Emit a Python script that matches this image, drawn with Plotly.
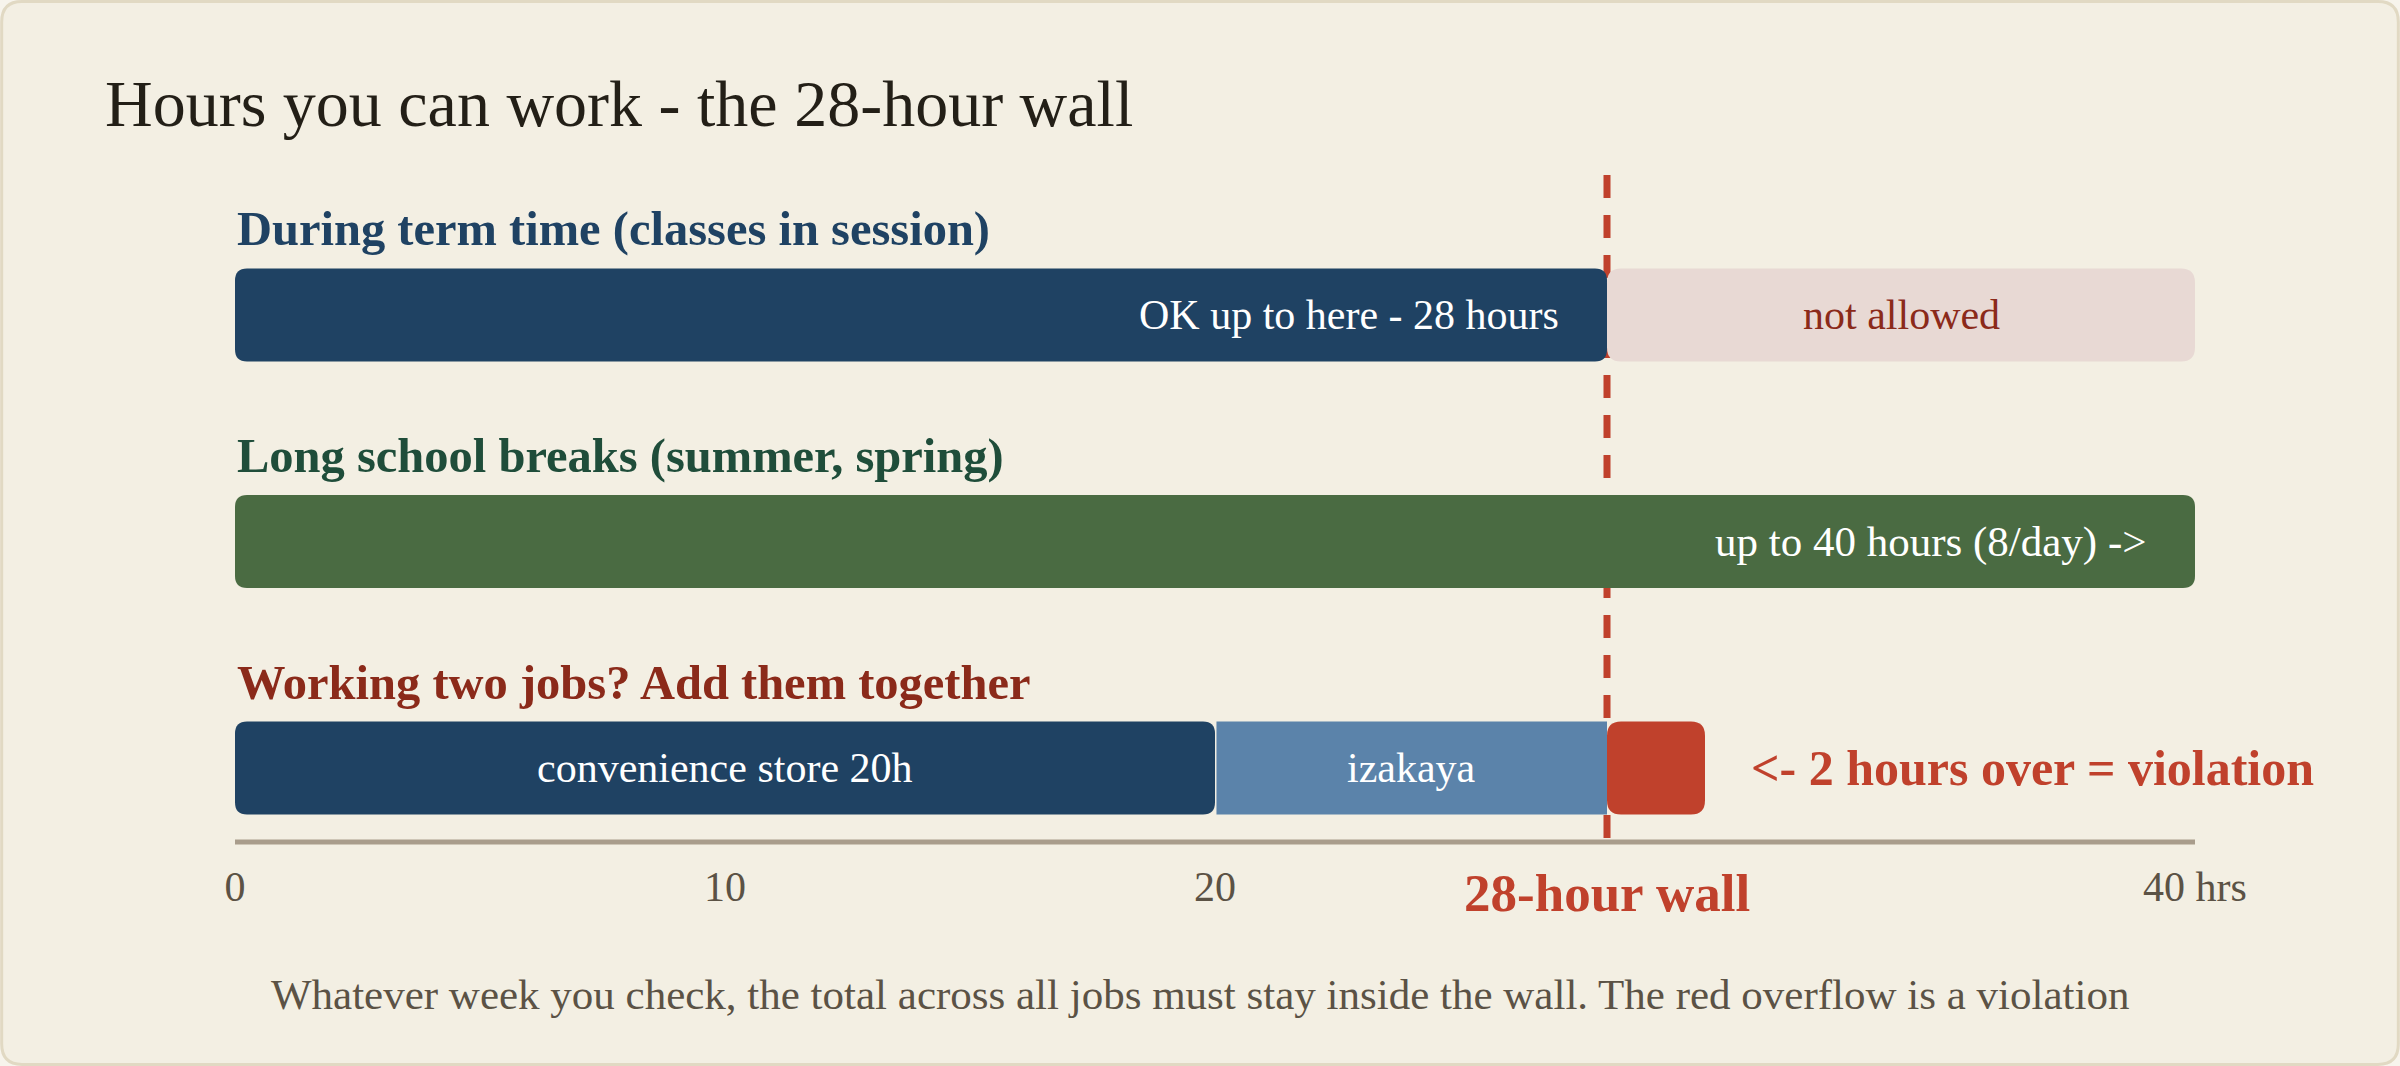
import plotly.graph_objects as go

# ---------------- data ----------------
rows = ["During term time (classes in session)",
        "Long school breaks (summer, spring)",
        "Working two jobs? Add them together"]
wall_hours = 28
max_hours = 40
term_allowed = 28
break_allowed = 40
job_names = ["convenience store 20h", "izakaya"]
job_hours = [20, 10]
tick_vals = [0, 10, 20, 40]
tick_text = ["0", "10", "20", "40 hrs"]

# ---------------- styling ----------------
W, H = 2400, 1066
FONT = "Liberation Serif, Georgia, serif"
BG = "#f3efe3"
NAVY = "#1f4263"
STEEL = "#5b83aa"
GREEN = "#4a6b42"
PINK = "#e8d9d4"
RED = "#c0412c"
DARKRED = "#8b2a1a"
DKGREEN = "#1f4d3a"
GRAY = "#5b5245"
AXIS = "#a99d8c"

X0_PX, X40_PX = 235, 2195
PXH = (X40_PX - X0_PX) / max_hours          # pixels per hour
ROW0_PX, ROW_STEP = 315, 226.5              # row centre / spacing in px
BAR_H = 93

xr = [-X0_PX / PXH, max_hours + (W - X40_PX) / PXH]
yr = [(H - ROW0_PX) / ROW_STEP, -ROW0_PX / ROW_STEP]


def ypx(p):
    return (p - ROW0_PX) / ROW_STEP


def rrect(x0, x1, row, r=12, color=NAVY):
    hh = BAR_H / 2 / ROW_STEP
    y0, y1 = row - hh, row + hh
    rx, ry = r / PXH, r / ROW_STEP
    if r == 0:
        path = f"M{x0},{y0} L{x1},{y0} L{x1},{y1} L{x0},{y1} Z"
    else:
        path = (f"M{x0+rx},{y0} L{x1-rx},{y0} Q{x1},{y0} {x1},{y0+ry} "
                f"L{x1},{y1-ry} Q{x1},{y1} {x1-rx},{y1} L{x0+rx},{y1} "
                f"Q{x0},{y1} {x0},{y1-ry} L{x0},{y0+ry} Q{x0},{y0} {x0+rx},{y0} Z")
    return dict(type="path", xref="x", yref="y", path=path,
                fillcolor=color, line=dict(width=0), layer="above")


fig = go.Figure()
# invisible trace so axes exist
fig.add_trace(go.Scatter(x=[0, max_hours], y=[0, 2], mode="markers",
                         marker=dict(opacity=0), hoverinfo="skip", showlegend=False))

shapes = []
# card
rpx = 22
rx, ry = rpx / W, rpx / H
shapes.append(dict(type="path", xref="paper", yref="paper", layer="below",
                   path=(f"M{rx},0.0015 L{1-rx},0.0015 Q0.9993,0.0015 0.9993,{ry} "
                         f"L0.9993,{1-ry} Q0.9993,0.9985 {1-rx},0.9985 L{rx},0.9985 "
                         f"Q0.0007,0.9985 0.0007,{1-ry} L0.0007,{ry} Q0.0007,0.0015 {rx},0.0015 Z"),
                   fillcolor=BG, line=dict(color="#e1d9c3", width=3)))
# wall line
shapes.append(dict(type="line", xref="x", yref="y", x0=wall_hours, x1=wall_hours,
                   y0=ypx(175), y1=ypx(840), layer="below",
                   line=dict(color=RED, width=7, dash="23px,17px")))
# axis line
shapes.append(dict(type="line", xref="x", yref="y", x0=0, x1=max_hours,
                   y0=ypx(842), y1=ypx(842), layer="below",
                   line=dict(color=AXIS, width=5)))
# row 0
shapes.append(rrect(0, term_allowed, 0, 12, NAVY))
shapes.append(rrect(term_allowed, max_hours, 0, 14, PINK))
# row 1
shapes.append(rrect(0, break_allowed, 1, 12, GREEN))
# row 2
total = sum(job_hours)
shapes.append(rrect(0, job_hours[0], 2, 12, NAVY))
shapes.append(rrect(job_hours[0] + 0.03, min(total, wall_hours), 2, 0, STEEL))
shapes.append(rrect(wall_hours, total, 2, 14, RED))

ann = []
# title
ann.append(dict(text="Hours you can work - the 28-hour wall", xref="paper", yref="paper",
                x=103 / W, y=1 - 104 / H, xanchor="left", yanchor="middle", showarrow=False,
                font=dict(family=FONT, size=66, color="#231f17")))
# row labels
label_cols = [NAVY, DKGREEN, DARKRED]
for i, (lab, c) in enumerate(zip(rows, label_cols)):
    ann.append(dict(text=f"<b>{lab}</b>", x=0, y=i, xref="x", yref="y", yshift=86,
                    xanchor="left", yanchor="middle", showarrow=False,
                    font=dict(family=FONT, size=48.5, color=c)))
# bar texts
ann.append(dict(text=f"OK up to here - {term_allowed} hours", x=term_allowed, y=0, xshift=-46,
                xanchor="right", yanchor="middle", showarrow=False,
                font=dict(family=FONT, size=42, color="white")))
ann.append(dict(text="not allowed", x=(term_allowed + max_hours) / 2, y=0,
                xanchor="center", yanchor="middle", showarrow=False,
                font=dict(family=FONT, size=42, color=DARKRED)))
ann.append(dict(text=f"up to {break_allowed} hours (8/day) ->", x=break_allowed, y=1, xshift=-46,
                xanchor="right", yanchor="middle", showarrow=False,
                font=dict(family=FONT, size=43, color="white")))
ann.append(dict(text=job_names[0], x=job_hours[0] / 2, y=2,
                xanchor="center", yanchor="middle", showarrow=False,
                font=dict(family=FONT, size=42, color="white")))
ann.append(dict(text=job_names[1], x=(job_hours[0] + min(total, wall_hours)) / 2, y=2,
                xanchor="center", yanchor="middle", showarrow=False,
                font=dict(family=FONT, size=42, color="white")))
ann.append(dict(text=f"<b><- {total - wall_hours} hours over = violation</b>", x=total, y=2, xshift=44,
                xanchor="left", yanchor="middle", showarrow=False,
                font=dict(family=FONT, size=50, color=RED)))
ann.append(dict(text=f"<b>{wall_hours}-hour wall</b>", x=wall_hours, y=ypx(893),
                xanchor="center", yanchor="middle", showarrow=False,
                font=dict(family=FONT, size=53, color=RED)))
ann.append(dict(text="Whatever week you check, the total across all jobs must stay inside the wall. "
                     "The red overflow is a violation", xref="paper", yref="paper",
                x=0.5, y=1 - 994 / H, xanchor="center", yanchor="middle", showarrow=False,
                font=dict(family=FONT, size=43, color=GRAY)))

fig.update_layout(
    width=W, height=H, margin=dict(l=0, r=0, t=0, b=0),
    paper_bgcolor="#f7f4ec", plot_bgcolor="rgba(0,0,0,0)",
    shapes=shapes, annotations=ann, showlegend=False,
    xaxis=dict(range=xr, showgrid=False, zeroline=False, showline=False,
               tickvals=tick_vals, ticktext=tick_text, ticks="",
               anchor="free", position=(H - 858) / H,
               tickfont=dict(family=FONT, size=42, color=GRAY), fixedrange=True),
    yaxis=dict(range=yr, showgrid=False, zeroline=False, showticklabels=False,
               showline=False, fixedrange=True),
)

fig.write_html("out.html", config={"displayModeBar": False},
               post_script="document.body.style.margin='0px';document.body.style.overflow='hidden';")
